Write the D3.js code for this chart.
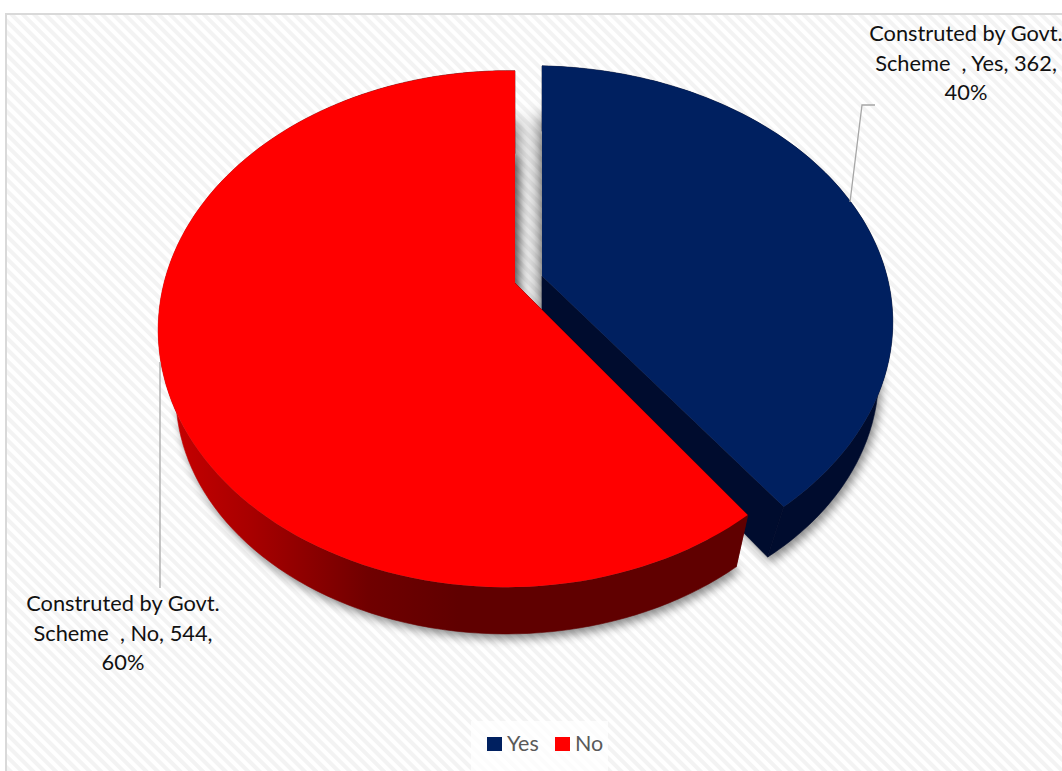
<!DOCTYPE html>
<html>
<head>
<meta charset="utf-8">
<script src="https://cdn.jsdelivr.net/npm/d3@7/dist/d3.min.js"></script>
<style>
  html, body { margin: 0; padding: 0; background: #fff; overflow: hidden; }
  svg { display: block; }
  text { font-family: Lato, "Open Sans", sans-serif; white-space: pre; }
</style>
</head>
<body>
<svg id="chart" width="1062" height="771"></svg>
<script>
const categories = ["Yes", "No"];
const counts = [362, 544];
const seriesName = "Construted by Govt. Scheme  ";
const sliceColors = ["#002060", "#ff0000"];

const svg = d3.select("#chart");
const defs = svg.append("defs");

// Diagonal hatch of the plot background
const hatch = defs.append("pattern")
  .attr("id", "hatch").attr("patternUnits", "userSpaceOnUse")
  .attr("width", 8).attr("height", 8).attr("patternTransform", "rotate(45)");
hatch.append("rect").attr("width", 8).attr("height", 8).attr("fill", "#ffffff");
hatch.append("rect").attr("y", 0).attr("width", 8).attr("height", 4).attr("fill", "#f3f3f3");

defs.append("filter").attr("id", "soft").attr("x", "-10%").attr("y", "-10%")
  .attr("width", "120%").attr("height", "120%")
  .append("feGaussianBlur").attr("stdDeviation", 5);
defs.append("filter").attr("id", "softWide").attr("x", "-10%").attr("y", "-10%")
  .attr("width", "120%").attr("height", "120%")
  .append("feGaussianBlur").attr("stdDeviation", 8);

defs.append("clipPath").attr("id", "gapClip")
  .append("rect").attr("x", 515).attr("y", 60).attr("width", 27).attr("height", 260);

const rimGradient = defs.append("linearGradient")
  .attr("id", "rim").attr("gradientUnits", "userSpaceOnUse")
  .attr("x1", 178).attr("x2", 738).attr("y1", 0).attr("y2", 0);
[[0, "#c40000"], [0.13, "#a80000"], [0.34, "#700000"], [0.5, "#600000"], [1, "#600000"]]
  .forEach(([o, c]) => rimGradient.append("stop").attr("offset", o).attr("stop-color", c));

svg.append("rect").attr("x", 6).attr("y", 14).attr("width", 1070).attr("height", 770)
  .attr("fill", "url(#hatch)").attr("stroke", "#d9d9d9").attr("stroke-width", 2);

// Pie angles: the first slice starts at twelve o'clock, going clockwise
const arcs = d3.pie().sort(null).value(d => d)(counts);
const total = d3.sum(counts);

// Tilted-camera projection of each exploded slice: a homography of the unit disc,
// with separate parameters for the top face and the lower rim
const views = [
  { ax: 542, ay: 276,
    top: { b: 357, a: 249, k: 0.185, m: 0.035, d: 0 },
    low: { b: 314, a: 233, k: 0.185, m: -0.05, d: 52 } },
  { ax: 515, ay: 283,
    top: { b: 343, a: 250, k: 0.178, m: 0.0228, d: 0 },
    low: { b: 326, a: 232.5, k: 0.178, m: 0.0228, d: 68 } }
];
const radius = d3.scaleLinear().domain([0, 1]).range([0, 1]);

function project(v, theta, r, bottom) {
  const p = bottom ? v.low : v.top;
  const x = radius(r) * Math.sin(theta), z = radius(r) * Math.cos(theta);
  const w = 1 + p.k * z + p.m * x;
  return [v.ax + p.b * x / w, v.ay - p.a * z / w + p.d];
}
const rimPoints = (v, a, bottom) =>
  d3.range(0, 121).map(i => project(v, a.startAngle + (a.endAngle - a.startAngle) * i / 120, 1, bottom));
const line = d3.line();

function face(v, a, bottom) {
  return line([project(v, 0, 0, bottom), ...rimPoints(v, a, bottom)]) + "Z";
}
function outerWall(v, a) {
  return line([...rimPoints(v, a, false), ...rimPoints(v, a, true).reverse()]) + "Z";
}
function cutWall(v, theta) {
  return line([project(v, 0, 0, false), project(v, theta, 1, false),
               project(v, theta, 1, true), project(v, 0, 0, true)]) + "Z";
}

// Soft drop shadow under the whole pie
const shadow = svg.append("g").attr("filter", "url(#soft)").attr("opacity", 0.45)
  .attr("transform", "translate(3,5)");
arcs.forEach((a, i) => shadow.append("path").attr("d", face(views[i], a, true)).attr("fill", "#000"));

// Shadow cast into the gap between the two exploded slices
const gapShadow = svg.append("g").attr("clip-path", "url(#gapClip)")
  .append("g").attr("filter", "url(#softWide)").attr("opacity", 0.5);
arcs.forEach((a, i) => gapShadow.append("path").attr("d", face(views[i], a, false)).attr("fill", "#000")
  .attr("transform", `translate(${i === 0 ? -4 : 4},50)`));

const wallColors = ["#000c2e", "url(#rim)"];
const cutColors = ["#000c2e", "#600000"];
[0, 1].forEach(i => {
  const a = arcs[i], v = views[i];
  svg.append("path").attr("d", cutWall(v, i === 0 ? a.endAngle : a.startAngle))
    .attr("fill", cutColors[i]).attr("stroke", cutColors[i]).attr("stroke-width", 0.6);
  svg.append("path").attr("d", outerWall(v, a))
    .attr("fill", wallColors[i]).attr("stroke", wallColors[i]).attr("stroke-width", 0.6);
  svg.append("path").attr("d", face(v, a, false)).attr("fill", sliceColors[i]);
});

// Leader lines
const leaders = [
  [[875, 105], [862, 105], [850, 202]],
  [[160, 362], [160, 588]]
];
svg.selectAll("path.leader").data(leaders).join("path").attr("class", "leader")
  .attr("d", d => line(d)).attr("fill", "none").attr("stroke", "#a6a6a6").attr("stroke-width", 1.3);

// Data labels
const labelSpots = [{ x: 966, y: 41 }, { x: 123, y: 611 }];
const firstLine = seriesName.slice(0, seriesName.indexOf("Scheme") - 1);
categories.forEach((c, i) => {
  const lines = [firstLine, `Scheme  , ${c}, ${counts[i]},`, `${Math.round(counts[i] / total * 100)}%`];
  svg.append("g").selectAll("text").data(lines).join("text")
    .attr("x", labelSpots[i].x)
    .attr("y", (d, j) => labelSpots[i].y + j * 29.5)
    .attr("text-anchor", "middle").attr("font-size", 21.8).attr("fill", "#111")
    .text(d => d);
});

// Legend
svg.append("rect").attr("x", 471).attr("y", 721).attr("width", 137).attr("height", 50)
  .attr("fill", "#ffffff").attr("opacity", 0.75);
const legendX = [487, 555];
categories.forEach((c, i) => {
  svg.append("rect").attr("x", legendX[i]).attr("y", 737).attr("width", 15).attr("height", 14)
    .attr("fill", sliceColors[i]);
  svg.append("text").attr("x", legendX[i] + 20).attr("y", 751)
    .attr("font-size", 21.5).attr("fill", "#595959").text(c);
});
</script>
</body>
</html>
